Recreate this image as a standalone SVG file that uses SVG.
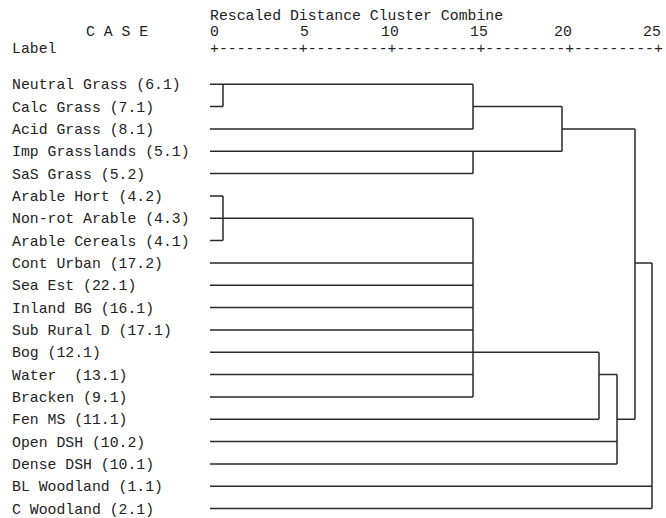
<svg xmlns="http://www.w3.org/2000/svg" width="666" height="518" viewBox="0 0 666 518">
<style>
text{font-family:"Liberation Mono","Courier New",monospace;font-size:14.8px;fill:#222;}
.c path{fill:none;stroke:#2a2a2a;stroke-width:1.5;}
</style>
<rect width="666" height="518" fill="#fff"/>
<g id="header">
<text x="210" y="19.5">Rescaled Distance Cluster Combine</text>
<text x="86" y="36">C A S E</text>
<text x="210" y="36">0</text>
<text x="300" y="36">5</text>
<text x="381" y="36">10</text>
<text x="470" y="36">15</text>
<text x="554" y="36">20</text>
<text x="643" y="36">25</text>
<text x="12" y="53">Label</text>
<text x="210" y="53">+---------+---------+---------+---------+---------+</text>
</g>
<g id="n-neutral-grass"><text x="12" y="89.3">Neutral Grass (6.1)</text></g>
<g id="n-calc-grass"><text x="12" y="111.6">Calc Grass (7.1)</text></g>
<g id="n-acid-grass"><text x="12" y="134">Acid Grass (8.1)</text></g>
<g id="n-imp-grasslands"><text x="12" y="156.3">Imp Grasslands (5.1)</text></g>
<g id="n-sas-grass"><text x="12" y="178.6">SaS Grass (5.2)</text></g>
<g id="n-arable-hort"><text x="12" y="201">Arable Hort (4.2)</text></g>
<g id="n-nonrot-arable"><text x="12" y="223.3">Non-rot Arable (4.3)</text></g>
<g id="n-arable-cereals"><text x="12" y="245.6">Arable Cereals (4.1)</text></g>
<g id="n-cont-urban"><text x="12" y="267.9">Cont Urban (17.2)</text></g>
<g id="n-sea-est"><text x="12" y="290.3">Sea Est (22.1)</text></g>
<g id="n-inland-bg"><text x="12" y="312.6">Inland BG (16.1)</text></g>
<g id="n-sub-rural-d"><text x="12" y="334.9">Sub Rural D (17.1)</text></g>
<g id="n-bog"><text x="12" y="357.3">Bog (12.1)</text></g>
<g id="n-water"><text x="12" y="379.6" xml:space="preserve">Water  (13.1)</text></g>
<g id="n-bracken"><text x="12" y="401.9">Bracken (9.1)</text></g>
<g id="n-fen-ms"><text x="12" y="424.3">Fen MS (11.1)</text></g>
<g id="n-open-dsh"><text x="12" y="446.6">Open DSH (10.2)</text></g>
<g id="n-dense-dsh"><text x="12" y="468.9">Dense DSH (10.1)</text></g>
<g id="n-bl-woodland"><text x="12" y="491.2">BL Woodland (1.1)</text></g>
<g id="n-c-woodland"><text x="12" y="513.6">C Woodland (2.1)</text></g>
<g id="connectors" class="c">
<path d="M210,84.3H473M210,106.6H223M223,84.3V106.6M210,129H473M473,84.3V129M473,106.6H562"/>
<path d="M210,151.3H562M210,173.6H473M473,151.3V173.6M562,106.6V151.3M562,129H635"/>
<path d="M210,196H223M223,196V240.6M210,218.3H473M210,240.6H223"/>
<path d="M210,262.9H473M210,285.3H473M210,307.6H473M210,329.9H473M210,374.6H473M210,396.9H473M473,218.3V396.9"/>
<path d="M210,352.3H599M210,419.3H599M599,352.3V419.3M599,374.6H617"/>
<path d="M210,441.6H617M210,463.9H617M617,374.6V463.9M617,419.3H635M635,129V419.3"/>
<path d="M635,262.9H652M210,486.2H652M210,508.6H652M652,262.9V508.6"/>
</g>
</svg>
